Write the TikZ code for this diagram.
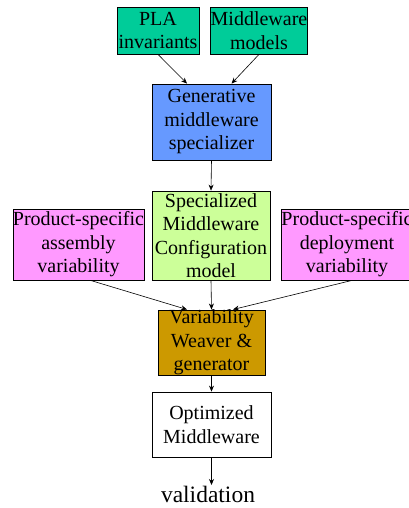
\documentclass[tikz,border=0pt]{standalone}
\usepackage{fontspec}
\setmainfont{Liberation Serif}
\usetikzlibrary{arrows.meta}
\definecolor{cteal}{RGB}{0,204,153}
\definecolor{cblue}{RGB}{102,153,255}
\definecolor{cgreen}{RGB}{204,255,153}
\definecolor{cpink}{RGB}{255,153,255}
\definecolor{cbrown}{RGB}{204,153,0}
\tikzset{
  box/.style={draw=black, line width=0.8pt, rectangle, inner sep=0pt, align=center,
    font=\fontsize{20}{23.5}\selectfont},
  conn/.style={line width=0.6pt, -{Stealth[length=6pt,width=5pt]}},
}
\begin{document}
\begin{tikzpicture}[x=1pt,y=-1pt]
\useasboundingbox (0,0) rectangle (409,508);
\clip (0,0) rectangle (409,508);
\node[box, fill=cteal, minimum width=82pt, minimum height=47pt] (pla) at (158,30.5) {PLA\\invariants};
\node[box, fill=cteal, minimum width=96pt, minimum height=47pt] (mwm) at (259,30.5) {Middleware\\models};
\node[box, fill=cblue, minimum width=119pt, minimum height=76pt] (gen) at (211.5,122) {Generative\\middleware\\specializer};
\node[box, fill=cgreen, minimum width=118pt, minimum height=89pt] (spec) at (211,235.5) {Specialized\\Middleware\\Configuration\\model};
\node[box, fill=cpink, minimum width=125pt, minimum height=71pt] (asm) at (78.5,244.5) {Product-specific\\assembly\\variability};
\node[box, fill=cpink, minimum width=128pt, minimum height=71pt] (dep) at (347,244.5) {Product-specific\\deployment\\variability};
\node[box, fill=cbrown, minimum width=107pt, minimum height=65pt] (weav) at (211.5,342.5) {Variability\\Weaver \&\\generator};
\node[box, fill=white, minimum width=119pt, minimum height=65pt] (opt) at (211.5,424.5) {Optimized\\Middleware};
\node[inner sep=0pt, font=\fontsize{23.5}{27}\selectfont] (val) at (208,494) {validation};
\draw[conn] (pla.south) -- ([xshift=-24.5pt]gen.north);
\draw[conn] (mwm.south) -- ([xshift=20pt]gen.north);
\draw[conn] (gen.south) -- (spec.north);
\draw[conn] ([xshift=12pt]asm.south) -- ([xshift=-24.5pt]weav.north);
\draw[conn] (spec.south) -- (weav.north);
\draw[conn] ([xshift=5pt]dep.south) -- ([xshift=21.5pt]weav.north);
\draw[conn] (weav.south) -- (opt.north);
\draw[conn] (opt.south) -- (211.5,485);
\end{tikzpicture}
\end{document}
